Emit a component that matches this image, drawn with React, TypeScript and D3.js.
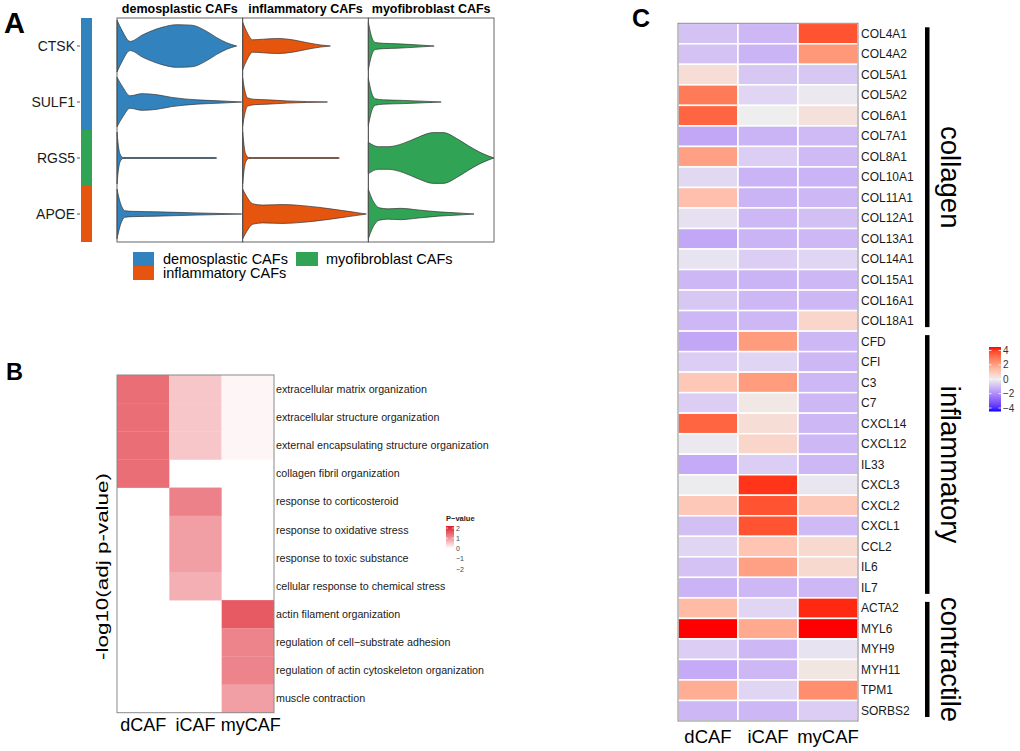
import React from 'react'
import * as d3 from 'd3'

const FONT = '"Liberation Sans", Arial, Helvetica, sans-serif'

// ---- panel A : violin plots ----
const cafGroups = ['demosplastic CAFs', 'inflammatory CAFs', 'myofibroblast CAFs']
const cafColors = ['#3182BD', '#E6550D', '#31A354']
const markerGenes = ['CTSK', 'SULF1', 'RGS5', 'APOE']
const markerGeneGroup = [0, 0, 2, 1] // which CAF group each marker belongs to

// violin profiles: [expression, scaled density]
const violinDemo: Record<string, number[][]> = {
    CTSK: [[0, .96], [.25, .58], [.65, .17], [1.3, .42], [2.25, .69], [3.0, .79], [3.75, .77], [4.5, .54], [5.0, .31], [5.5, .12], [6.0, 0]],
    SULF1: [[0, .92], [.3, .54], [.65, .23], [1.25, .31], [2.0, .27], [2.75, .17], [4.0, .08], [5.25, .04], [6.25, 0]],
    RGS5: [[0, .96], [.05, .58], [.15, .15], [.3, .02], [.5, .015], [4.95, .015], [5.0, 0]],
    APOE: [[0, .92], [.15, .46], [.4, .12], [.75, .1], [2.0, .08], [4.0, .04], [6.25, 0]],
}
const violinInfl: Record<string, number[][]> = {
    CTSK: [[0, .88], [.2, .54], [.5, .23], [1.0, .25], [1.75, .28], [2.5, .23], [3.25, .12], [3.9, .04], [4.4, 0]],
    SULF1: [[0, .88], [.1, .46], [.25, .15], [.6, .1], [1.25, .08], [2.25, .04], [4.25, 0]],
    RGS5: [[0, .96], [.05, .58], [.15, .15], [.3, .02], [.5, .015], [4.8, .015], [4.85, 0]],
    APOE: [[0, .92], [.2, .65], [.5, .38], [1.0, .33], [2.0, .35], [3.0, .31], [4.0, .23], [5.0, .13], [5.75, .05], [6.2, 0]],
}
const violinMyo: Record<string, number[][]> = {
    CTSK: [[0, .88], [.15, .38], [.35, .13], [.75, .1], [1.5, .08], [2.5, .04], [3.3, 0]],
    SULF1: [[0, .88], [.15, .38], [.35, .12], [.75, .08], [1.75, .06], [2.75, .03], [3.65, 0]],
    RGS5: [[0, .58], [.5, .42], [1.0, .42], [1.75, .54], [2.5, .77], [3.25, .94], [3.75, .94], [4.5, .69], [5.0, .46], [5.6, .21], [6.0, .08], [6.3, 0]],
    APOE: [[0, .92], [.2, .54], [.55, .23], [1.0, .19], [1.6, .21], [2.5, .15], [3.5, .08], [4.5, .04], [5.3, 0]],
}
const violins = [violinDemo, violinInfl, violinMyo]

// ---- panel B : GO term enrichment ----
const goTerms = [
    'extracellular matrix organization',
    'extracellular structure organization',
    'external encapsulating structure organization',
    'collagen fibril organization',
    'response to corticosteroid',
    'response to oxidative stress',
    'response to toxic substance',
    'cellular response to chemical stress',
    'actin filament organization',
    'regulation of cell\u2212substrate adhesion',
    'regulation of actin cytoskeleton organization',
    'muscle contraction',
]
const subtypes = ['dCAF', 'iCAF', 'myCAF']
const goDcaf = [1.27, 1.27, 1.27, 1.27, null, null, null, null, null, null, null, null]
const goIcaf = [0.5, 0.5, 0.5, null, 1.1, 0.85, 0.85, 0.7, null, null, null, null]
const goMycaf = [0.08, 0.08, 0.08, null, null, null, null, null, 1.45, 1.07, 1.07, 0.85]
const goTicks = [2, 1, 0, -1, -2]

// ---- panel C : marker expression heatmap ----
const cafGenes = [
    'COL4A1', 'COL4A2', 'COL5A1', 'COL5A2', 'COL6A1', 'COL7A1', 'COL8A1', 'COL10A1', 'COL11A1', 'COL12A1',
    'COL13A1', 'COL14A1', 'COL15A1', 'COL16A1', 'COL18A1',
    'CFD', 'CFI', 'C3', 'C7', 'CXCL14', 'CXCL12', 'IL33', 'CXCL3', 'CXCL2', 'CXCL1', 'CCL2', 'IL6', 'IL7',
    'ACTA2', 'MYL6', 'MYH9', 'MYH11', 'TPM1', 'SORBS2',
]
const exprDcaf = [-0.8, -0.8, 0.4, 2.6, 3.0, -1.3, 1.8, -0.4, 1.1, -0.25, -1.3, -0.2, -1.0, -0.7, -1.0,
    -1.3, -0.6, 0.9, -0.6, 3.0, -0.1, -1.25, -0.05, 0.9, -0.85, -0.45, -0.8, -1.05,
    1.2, 4.0, -0.6, -1.25, 1.5, -1.0]
const exprIcaf = [-1.0, -1.05, -0.7, -0.45, 0, -1.05, -0.6, -1.05, -1.05, -1.0, -1.05, -0.6, -1.05, -1.0, -1.0,
    1.9, -0.45, 1.9, 0.15, 0.4, 0.6, -0.6, 3.7, 3.3, 3.3, 1.0, 1.8, -1.0,
    -0.45, 1.6, -1.0, -1.0, -0.45, -1.0]
const exprMycaf = [3.3, 2.0, -0.7, -0.1, 0.3, -0.95, -0.95, -1.05, -1.0, -0.85, -1.0, -0.45, -1.0, -1.0, 0.6,
    -1.0, -1.0, -1.0, -1.0, -1.0, -1.0, -1.0, -0.15, 0.9, -0.95, 0.5, 0.5, -1.0,
    3.8, 4.0, -0.2, 0.2, 2.2, -0.6]
const geneSets = ['collagen', 'inflammatory', 'contractile']
const geneSetSizes = [15, 13, 6]
const exprTicks = [4, 2, 0, -2, -4]

const App = () => {
    // ===== A =====
    const xFacet = d3.scaleBand<string>().domain(cafGroups).range([117, 494])
    const yGene = d3.scaleBand<string>().domain(markerGenes).range([18, 242])
    const xExpr = d3.scaleLinear().domain([0, 6.3]).range([0, xFacet.bandwidth()])
    const wDens = d3.scaleLinear().domain([0, 1]).range([0, 27])

    const violinPath = (pts: number[][], cy: number) =>
        d3.area<number[]>()
            .x(d => xExpr(d[0]))
            .y0(d => cy - wDens(d[1]))
            .y1(d => cy + wDens(d[1]))
            .curve(d3.curveMonotoneX)(pts) ?? ''

    // ===== B =====
    const xSub = d3.scaleBand<string>().domain(subtypes).range([117, 274])
    const yTerm = d3.scaleBand<string>().domain(goTerms).range([375, 712.7])
    const pColor = d3.scaleLinear<string>().domain([0, 2]).range(['#FFFFFF', '#DE1A28']).clamp(true)
    const goCols = [goDcaf, goIcaf, goMycaf]
    const pLegY = d3.scaleLinear().domain([2, -2]).range([528, 569])

    // ===== C =====
    const xSubC = d3.scaleBand<string>().domain(subtypes).range([678, 858])
    const yCGene = d3.scaleBand<string>().domain(cafGenes).range([23.3, 721])
    const exprColor = d3.scaleLinear<string>().domain([-4, 0, 4])
        .range(['#0000FF', '#EEEEEE', '#FF0000']).interpolate(d3.interpolateLab).clamp(true)
    const exprCols = [exprDcaf, exprIcaf, exprMycaf]
    const eLegY = d3.scaleLinear().domain([4, -4]).range([350.5, 408])
    const setStarts = geneSetSizes.map((_, i) => d3.sum(geneSetSizes.slice(0, i)))

    const eStops = d3.range(0, 1.0001, 0.05)
    return (
        <svg width={1020} height={751} style={{ position: 'absolute', left: 0, top: 0, background: '#fff' }}
            fontFamily={FONT}>
            <defs>
                <linearGradient id="pgrad" x1="0" x2="0" y1="0" y2="1">
                    {eStops.map(t => (
                        <stop key={t} offset={t} stopColor={pColor(2 - 4 * t)} />
                    ))}
                </linearGradient>
                <linearGradient id="egrad" x1="0" x2="0" y1="0" y2="1">
                    {eStops.map(t => (
                        <stop key={t} offset={t} stopColor={exprColor(4 - 8 * t)} />
                    ))}
                </linearGradient>
            </defs>

            {/* ---------- A ---------- */}
            <text x={4} y={33} fontSize={29} fontWeight="bold">A</text>
            {markerGenes.map((g, i) => (
                <g key={g}>
                    <rect x={81} y={yGene(g)} width={11} height={yGene.bandwidth()} fill={cafColors[markerGeneGroup[i]]} />
                    <line x1={77} x2={80} y1={yGene(g)! + yGene.bandwidth() / 2} y2={yGene(g)! + yGene.bandwidth() / 2} stroke="#555" />
                    <text x={75} y={yGene(g)! + yGene.bandwidth() / 2 + 5} fontSize={14} textAnchor="end" fill="#1a1a1a">{g}</text>
                </g>
            ))}
            {cafGroups.map((grp, gi) => (
                <g key={grp} transform={`translate(${xFacet(grp)},0)`}>
                    <text x={xFacet.bandwidth() / 2} y={13} fontSize={12.5} fontWeight="bold" textAnchor="middle">{grp}</text>
                    {markerGenes.map(g => (
                        <path key={g} d={violinPath(violins[gi][g], yGene(g)! + yGene.bandwidth() / 2)}
                            fill={cafColors[gi]} stroke="#333" strokeWidth={0.7} />
                    ))}
                    <rect x={0} y={18} width={xFacet.bandwidth()} height={224} fill="none" stroke="#555" strokeWidth={0.9} />
                </g>
            ))}
            {/* legend A */}
            <rect x={133} y={252} width={21} height={14} fill={cafColors[0]} />
            <rect x={133} y={266} width={21} height={14} fill={cafColors[1]} />
            <rect x={296} y={252} width={22} height={14} fill={cafColors[2]} />
            <text x={163} y={264} fontSize={14.5}>{cafGroups[0]}</text>
            <text x={163} y={278} fontSize={14.5}>{cafGroups[1]}</text>
            <text x={326} y={264} fontSize={14.5}>{cafGroups[2]}</text>

            {/* ---------- B ---------- */}
            <text x={6} y={380} fontSize={23.5} fontWeight="bold">B</text>
            {goCols.map((col, ci) => col.map((v, ri) => (
                v === null ? null :
                    <rect key={`${ci}-${ri}`} x={xSub(subtypes[ci])} y={yTerm(goTerms[ri])}
                        width={xSub.bandwidth()} height={yTerm.bandwidth() + 0.3} fill={pColor(v)} />
            )))}
            <rect x={117} y={375} width={157} height={337.7} fill="none" stroke="#8a8a8a" strokeWidth={1} />
            {goTerms.map(t => (
                <text key={t} x={276} y={yTerm(t)! + yTerm.bandwidth() / 2 + 3.8} fontSize={10.7} fill="#1a1a1a">{t}</text>
            ))}
            {subtypes.map(s => (
                <text key={s} x={xSub(s)! + xSub.bandwidth() / 2 + (s === 'myCAF' ? 3 : 0)} y={731} fontSize={18}
                    textAnchor="middle">{s}</text>
            ))}
            <text transform="translate(108,566.5) rotate(-90)" fontSize={16} textAnchor="middle"
                textLength={187} lengthAdjust="spacingAndGlyphs">-log10(adj p-value)</text>
            {/* legend B */}
            <text x={446} y={521} fontSize={7.5} fontWeight="bold" fill="#222">P{'\u2212'}value</text>
            <rect x={446} y={pLegY(2) - 2} width={8} height={pLegY(-2) - pLegY(2) + 4} fill="url(#pgrad)" />
            {goTicks.map(t => (
                <g key={t}>
                    <line x1={446} x2={448} y1={pLegY(t)} y2={pLegY(t)} stroke="#fff" strokeWidth={0.6} />
                    <line x1={452} x2={454} y1={pLegY(t)} y2={pLegY(t)} stroke="#fff" strokeWidth={0.6} />
                    <text x={456} y={pLegY(t) + 2.5} fontSize={7} fill="#444">{t < 0 ? `\u2212${-t}` : t}</text>
                </g>
            ))}

            {/* ---------- C ---------- */}
            <text x={632} y={27} fontSize={25} fontWeight="bold">C</text>
            {exprCols.map((col, ci) => col.map((v, ri) => (
                <rect key={`${ci}-${ri}`} x={xSubC(subtypes[ci])} y={yCGene(cafGenes[ri])}
                    width={xSubC.bandwidth()} height={yCGene.bandwidth()} fill={exprColor(v)}
                    stroke="#fff" strokeWidth={1.5} />
            )))}
            <rect x={678} y={23.3} width={180} height={697.7} fill="none" stroke="#8a8a8a" strokeWidth={1} />
            {cafGenes.map(g => (
                <text key={g} x={861} y={yCGene(g)! + yCGene.bandwidth() / 2 + 4.2} fontSize={12} fill="#1a1a1a">{g}</text>
            ))}
            {subtypes.map(s => (
                <text key={s} x={xSubC(s)! + xSubC.bandwidth() / 2} y={743} fontSize={18.5} textAnchor="middle">{s}</text>
            ))}
            {geneSets.map((s, i) => {
                const y0 = yCGene(cafGenes[setStarts[i]])! + 4
                const y1 = yCGene(cafGenes[setStarts[i] + geneSetSizes[i] - 1])! + yCGene.bandwidth() - 4
                return (
                    <g key={s}>
                        <rect x={925} y={y0} width={4.5} height={y1 - y0} fill="#000" />
                        <text transform={`translate(941,${(y0 + y1) / 2}) rotate(90)`} fontSize={27.5} textAnchor="middle">{s}</text>
                    </g>
                )
            })}
            {/* legend C */}
            <rect x={989} y={eLegY(4) - 3.5} width={12} height={eLegY(-4) - eLegY(4) + 7} fill="url(#egrad)" />
            {exprTicks.map(t => (
                <g key={t}>
                    <line x1={989} x2={991.5} y1={eLegY(t)} y2={eLegY(t)} stroke="#fff" strokeWidth={0.8} />
                    <line x1={998.5} x2={1001} y1={eLegY(t)} y2={eLegY(t)} stroke="#fff" strokeWidth={0.8} />
                    <text x={1003} y={eLegY(t) + 3.5} fontSize={10} fill="#333">{t < 0 ? `\u2212${-t}` : t}</text>
                </g>
            ))}
        </svg>
    )
}

export default App
